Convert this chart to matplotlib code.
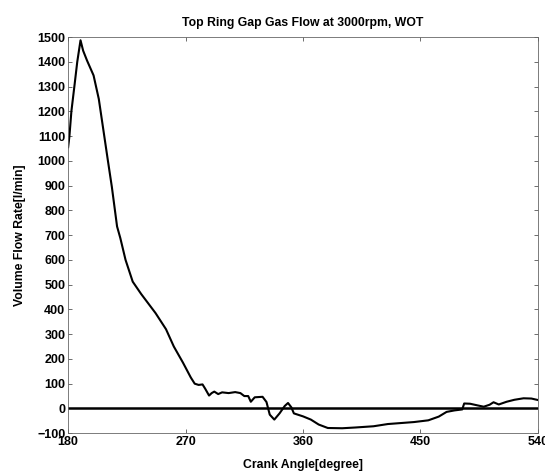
import matplotlib.pyplot as plt

plt.rcParams['font.family'] = ['Liberation Sans', 'DejaVu Sans']
plt.rcParams['font.weight'] = 'bold'

# crank angle [deg] and gap flow [l/min]
crank_angle = [180, 181, 182.5, 185, 187, 189.5, 191.5, 194.5, 199.5, 203.5,
               207, 210.5, 213.5, 217.5, 220, 224, 229.5, 236, 247, 255,
               261, 268, 274, 277, 280, 283, 285, 288, 290, 292,
               295, 298, 303, 308, 312, 315, 318, 320, 323, 329,
               332, 334.5, 338, 342, 346, 348.5, 351, 353, 360, 366,
               372, 379, 390, 400, 414, 425, 435, 445, 456, 464,
               470, 476, 482, 483.5, 488, 494, 498.5, 503, 506, 510,
               516, 522, 529, 535, 540]
flow_rate = [1055, 1100, 1200, 1310, 1400, 1487, 1445, 1405, 1345, 1250,
             1125, 1000, 895, 735, 688, 600, 512, 462, 385, 320,
             250, 185, 125, 100, 95, 97, 80, 52, 62, 68,
             58, 65, 62, 66, 62, 50, 50, 27, 45, 47,
             26, -25, -45, -20, 10, 22, 5, -20, -32, -45,
             -65, -79, -80, -77, -72, -63, -59, -55, -48, -33,
             -14, -8, -4, 20, 19, 12, 7, 15, 25, 16,
             27, 35, 41, 40, 34]

x_ticks = [180, 270, 360, 450, 540]
y_ticks = list(range(-100, 1501, 100))

fig = plt.figure(figsize=(5.45, 4.75), dpi=100)
ax = fig.add_axes([0.125, 0.088, 0.862, 0.834])

ax.plot(crank_angle, flow_rate, color='black', linewidth=1.5)
ax.axhline(0, color='black', linewidth=1.8)

ax.set_xlim(180, 540)
ax.set_ylim(-100, 1500)
ax.set_xticks(x_ticks)
ax.set_yticks(y_ticks)
ax.tick_params(direction='in', length=3, width=0.6, labelsize=9,
               top=True, right=True, color='#555555', pad=2)
for spine in ax.spines.values():
    spine.set_linewidth(0.6)
    spine.set_color('#666666')
    spine.set_linestyle((0, (2, 1)))

ax.set_title('Top Ring Gap Gas Flow at 3000rpm, WOT', fontsize=8.8,
             fontweight='bold', pad=8)
ax.set_xlabel('Crank Angle[degree]', fontsize=8.8, fontweight='bold', labelpad=8)
ax.set_ylabel('Volume Flow Rate[l/min]', fontsize=8.8, fontweight='bold', labelpad=8)

fig.savefig('out.png', dpi=100)
